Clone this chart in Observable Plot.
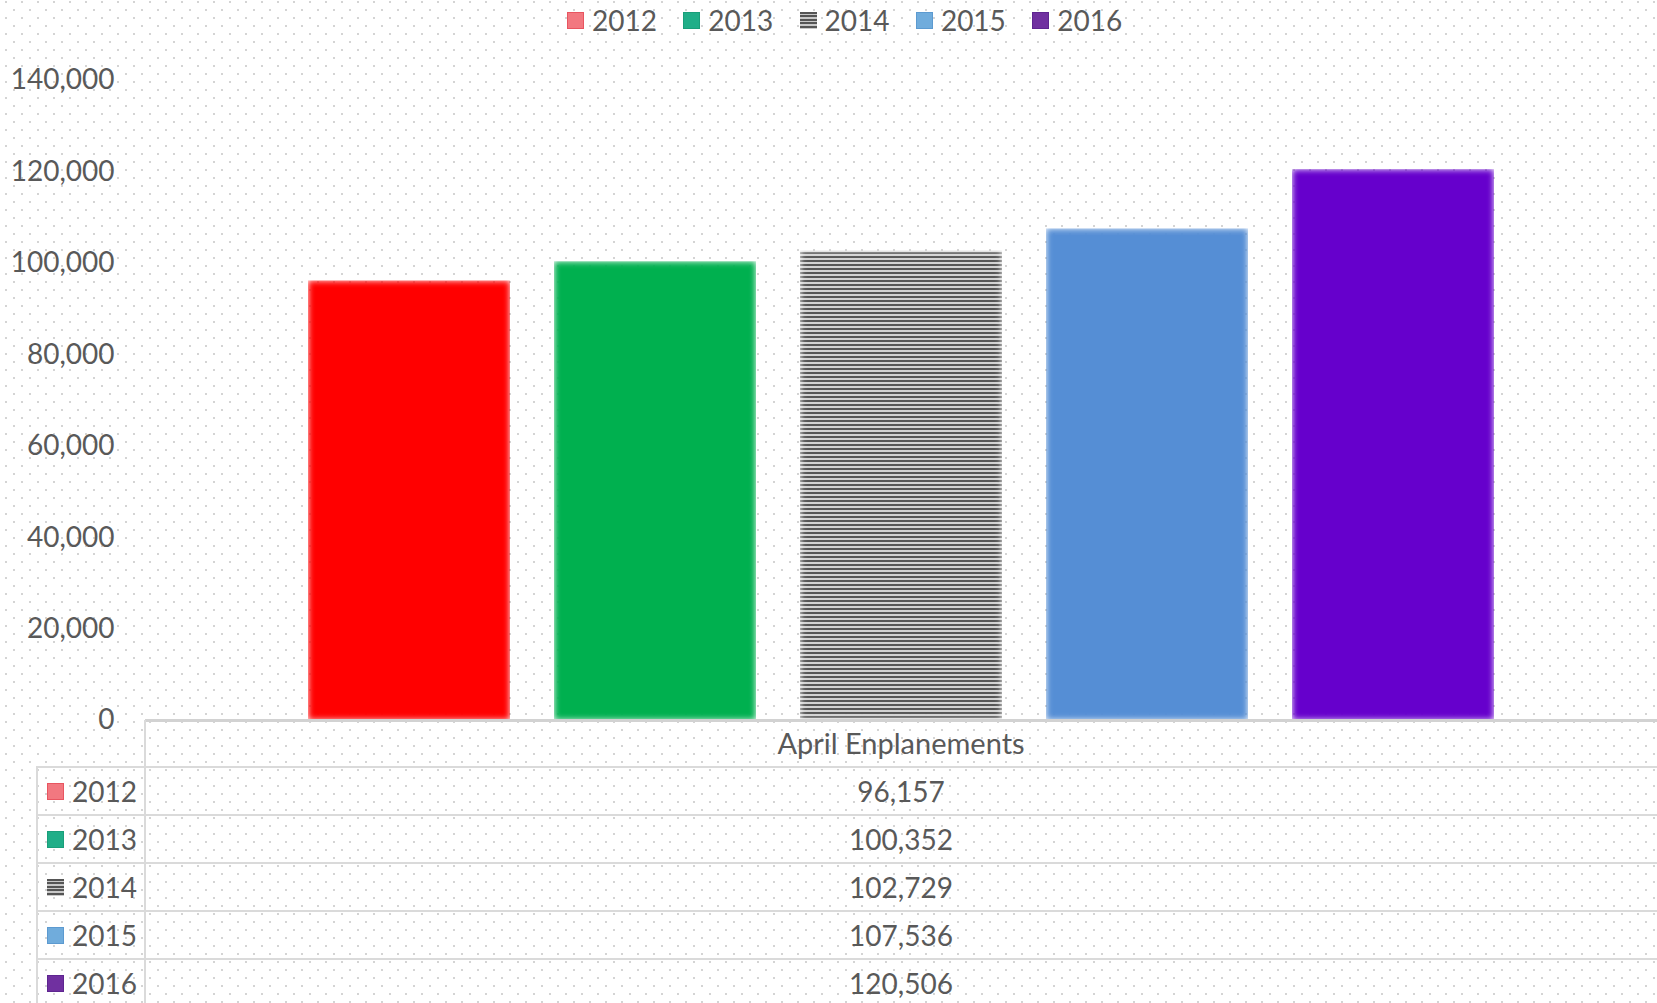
<!DOCTYPE html>
<html><head><meta charset="utf-8">
<script src="https://cdn.jsdelivr.net/npm/d3@7"></script>
<script src="https://cdn.jsdelivr.net/npm/@observablehq/plot@0.6"></script>
<style>
html,body{margin:0;padding:0;}
body{width:1657px;height:1003px;overflow:hidden;font-family:Lato,"Open Sans",sans-serif;color:#595959;
background-color:#fff;
background-image:url("data:image/svg+xml,%3Csvg xmlns='http://www.w3.org/2000/svg' width='16' height='16'%3E%3Crect x='5' y='1' width='2' height='2' fill='%23d4d4d4'/%3E%3Crect x='13' y='9' width='2' height='2' fill='%23d4d4d4'/%3E%3C/svg%3E");}
#legend{height:44px;position:relative;}
.item{position:absolute;top:0;height:40px;display:flex;align-items:center;font-size:28px;white-space:nowrap;}
.mk{width:17px;height:17px;margin-right:8px;box-sizing:border-box;flex:none;}
#chart svg{display:block;}
#table{position:relative;height:283px;margin-top:-20px;}
.hl{position:absolute;height:2px;background:#dadada;}
.vl{position:absolute;width:2px;background:#dadada;}
.txt{position:absolute;font-size:28px;line-height:28px;white-space:nowrap;}
.rowlab{position:absolute;display:flex;align-items:center;font-size:28px;height:28px;}
</style>
</head><body>
<div id="legend"></div>
<div id="chart"></div>
<div id="table"></div>
<script>
const years = ["2012", "2013", "2014", "2015", "2016"];
const values = [96157, 100352, 102729, 107536, 120506];
const barColors = ["#ff0000", "#00b050", "url(#stripes2014)", "#558ed5", "#6600cc"];
const legendColors = ["#f27880", "#20ae88", "stripes", "#70acdc", "#7030a0"];
const legendBorders = ["#e85560", "#1a9e7a", "none", "#5c9ad0", "#5e2590"];
const category = "April Enplanements";
const yTicks = [0, 20000, 40000, 60000, 80000, 100000, 120000, 140000];

const data = years.map((y, i) => ({year: y, value: values[i]}));
const fmt = d3.format(",");

function marker(i) {
  const m = document.createElement("div");
  m.className = "mk";
  if (legendColors[i] === "stripes") {
    m.style.background = "repeating-linear-gradient(to bottom,#555 0px,#555 2px,#c8c8c8 2px,#c8c8c8 3.4px)";
  } else {
    m.style.background = legendColors[i];
    m.style.border = "1px solid " + legendBorders[i];
  }
  return m;
}

// Legend
const leg = document.getElementById("legend");
years.forEach((y, i) => {
  const it = document.createElement("div");
  it.className = "item";
  it.style.left = (567 + i * 116.3) + "px";
  it.appendChild(marker(i));
  const t = document.createElement("span");
  t.textContent = y;
  it.appendChild(t);
  leg.appendChild(it);
});

// Chart
const chart = Plot.plot({
  width: 1657,
  height: 696,
  marginTop: 36,
  marginBottom: 20,
  marginLeft: 145,
  marginRight: 0,
  style: {background: "transparent", fontFamily: "Lato, 'Open Sans', sans-serif", fontSize: "28px", color: "#595959", overflow: "visible"},
  x: {domain: years, paddingInner: 0.179, paddingOuter: 0.659, axis: null},
  y: {domain: [0, 140000], axis: null},
  color: {type: "ordinal", domain: years, range: barColors},
  marks: [
    Plot.barY(data, {x: "year", y: "value", fill: "year", className: "bars"}),
    Plot.axisY(yTicks, {tickFormat: fmt, tickSize: 0, tickPadding: 31, fontSize: 28, label: null}),
    Plot.ruleY([0], {stroke: "#d2d2d2", strokeWidth: 3})
  ]
});
const defs = d3.select(chart).insert("defs", ":first-child");
const pat = defs.append("pattern").attr("id", "stripes2014").attr("patternUnits", "userSpaceOnUse").attr("width", 8).attr("height", 4);
pat.append("rect").attr("width", 8).attr("height", 4).attr("fill", "#d2d2d2");
pat.append("rect").attr("width", 8).attr("height", 2).attr("fill", "#575757");
const f = defs.append("filter").attr("id", "soft").attr("x", "-5%").attr("y", "-5%").attr("width", "110%").attr("height", "110%");
f.append("feGaussianBlur").attr("in", "SourceAlpha").attr("stdDeviation", 3).attr("result", "blur");
f.append("feComposite").attr("in", "SourceGraphic").attr("in2", "blur").attr("operator", "in");
d3.select(chart).selectAll("g.bars rect").attr("filter", "url(#soft)");
document.getElementById("chart").appendChild(chart);

// Data table
const tb = document.getElementById("table");
function add(cls, css, text) {
  const d = document.createElement("div");
  d.className = cls;
  Object.assign(d.style, css);
  if (text != null) d.textContent = text;
  tb.appendChild(d);
  return d;
}
const rowTop = i => 47 + 48 * i;
add("vl", {left: "144px", top: "0px", height: "283px"});
add("vl", {left: "36px", top: rowTop(0) + "px", height: "240px"});
for (let i = 0; i < years.length; i++) {
  add("hl", {left: "36px", width: "1621px", top: (rowTop(i) - 1) + "px"});
}
add("txt", {left: "901px", top: "9px", transform: "translateX(-50%)", fontSize: "29px"}, category);
years.forEach((y, i) => {
  const r = add("rowlab", {left: "47px", top: (rowTop(i) + 10) + "px"});
  r.appendChild(marker(i));
  const s = document.createElement("span");
  s.textContent = y;
  r.appendChild(s);
  add("txt", {left: "901px", top: (rowTop(i) + 10) + "px", transform: "translateX(-50%)"}, fmt(values[i]));
});
</script>
</body></html>
